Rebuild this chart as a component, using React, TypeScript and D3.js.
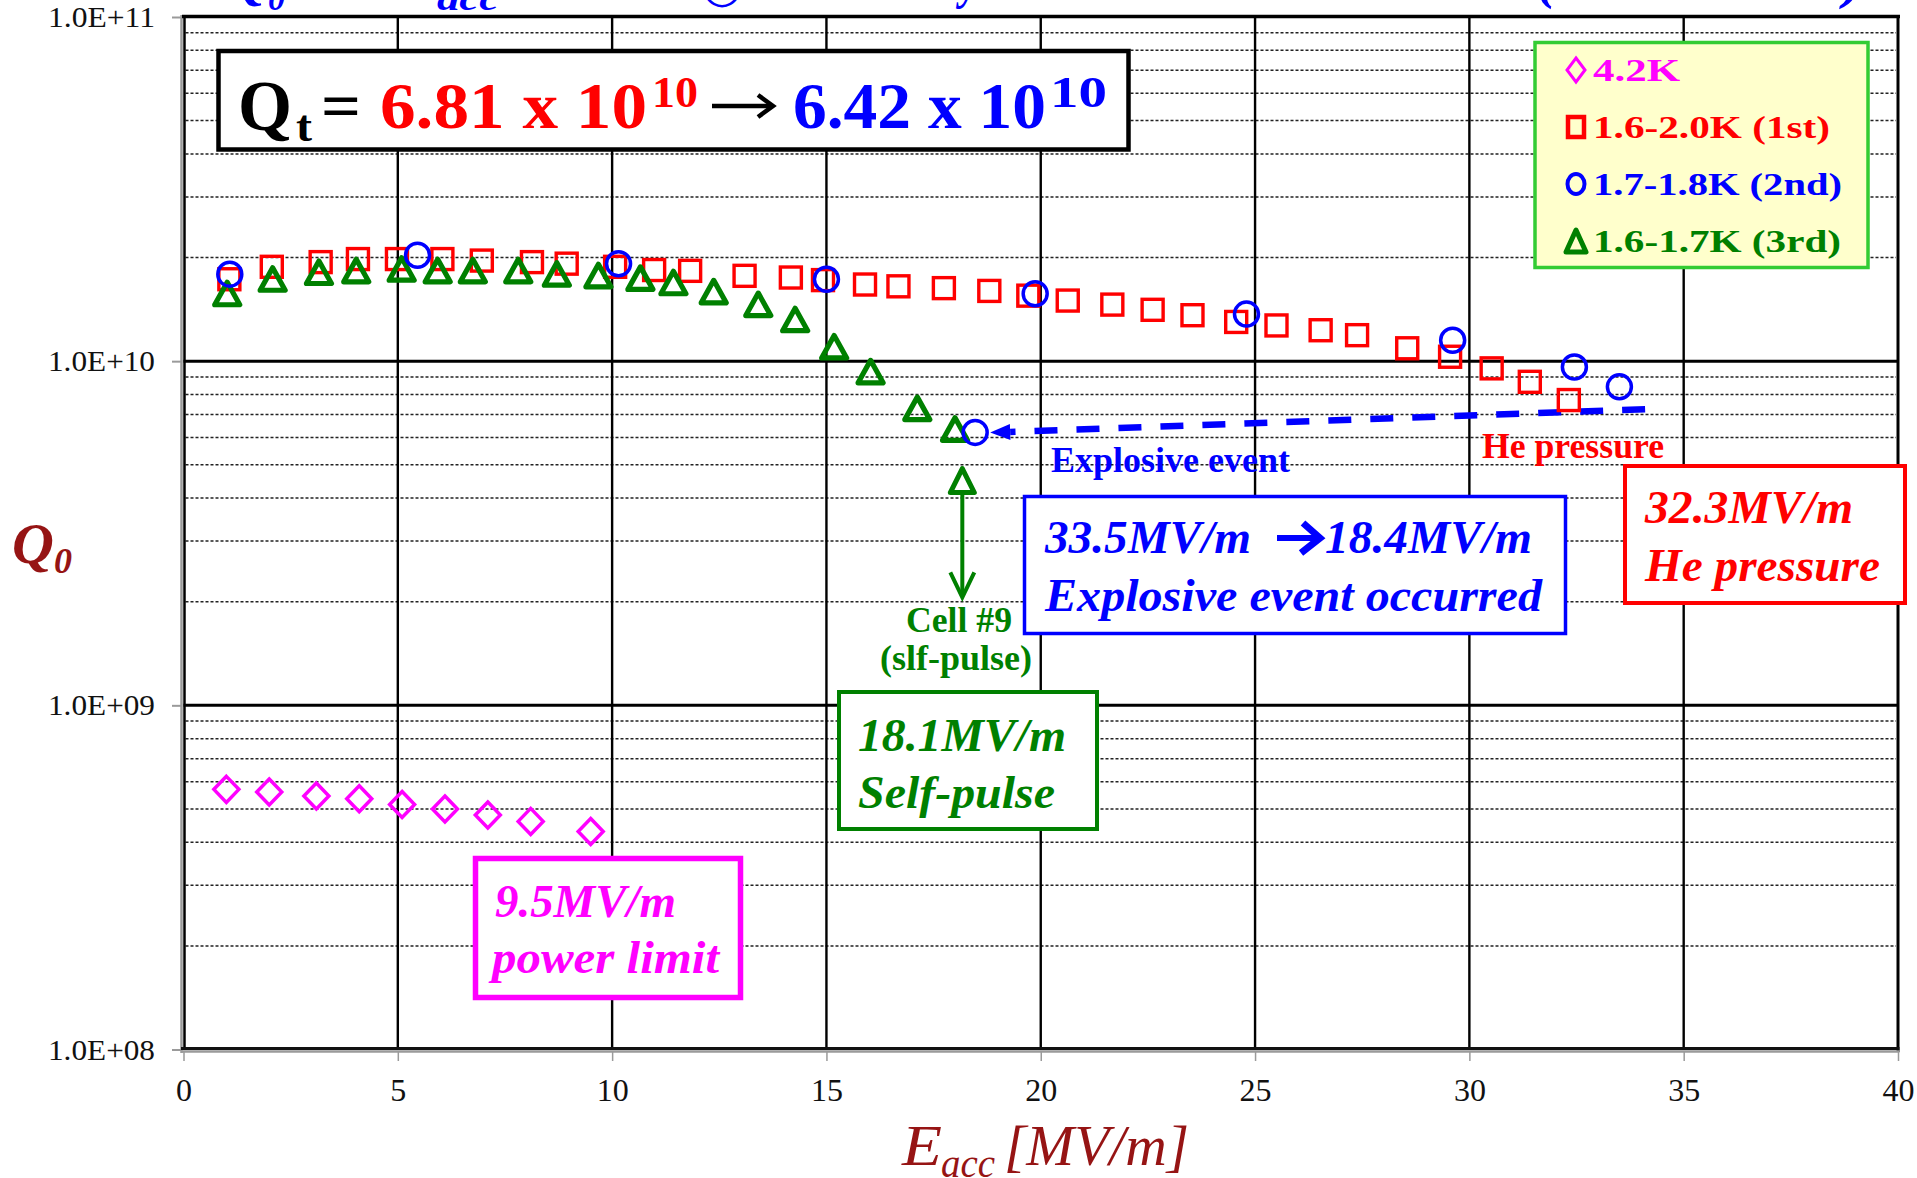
import React, { useEffect, useRef } from "react";
import * as d3 from "d3";

// Q0 vs Eacc
// 4.2K
const eacc42K = [1.0, 2.0, 3.1, 4.1, 5.1, 6.1, 7.1, 8.1, 9.5];
const q42K = [5.7e8, 5.6e8, 5.45e8, 5.35e8, 5.15e8, 5.0e8, 4.8e8, 4.6e8, 4.3e8];

// 1.6-2.0K (1st)
const eacc1st = [
  1.07, 2.06, 3.2, 4.07, 4.98, 6.04, 6.96, 8.13, 8.94, 10.07, 10.98, 11.82, 13.09, 14.17,
  14.92, 15.9, 16.68, 17.74, 18.8, 19.71, 20.63, 21.67, 22.61, 23.54, 24.56, 25.5, 26.53,
  27.38, 28.55, 29.55, 30.52, 31.41, 32.32,
];
const q1st = [
  1.73e10, 1.88e10, 1.94e10, 1.98e10, 1.98e10, 1.98e10, 1.96e10, 1.94e10, 1.92e10, 1.88e10,
  1.84e10, 1.83e10, 1.77e10, 1.75e10, 1.72e10, 1.67e10, 1.65e10, 1.63e10, 1.6e10, 1.55e10,
  1.5e10, 1.46e10, 1.41e10, 1.36e10, 1.3e10, 1.27e10, 1.23e10, 1.19e10, 1.09e10, 1.03e10,
  9.53e9, 8.71e9, 7.71e9,
];

// 1.7-1.8K (2nd), last point after the explosive event
const eacc2nd = [1.08, 5.46, 10.15, 15.0, 19.87, 24.8, 29.61, 32.45, 33.5, 18.47];
const q2nd = [1.79e10, 2.03e10, 1.92e10, 1.73e10, 1.57e10, 1.37e10, 1.15e10, 9.62e9, 8.42e9, 6.21e9];

// 1.6-1.7K (3rd)
const eacc3rd = [
  1.02, 2.08, 3.16, 4.03, 5.09, 5.93, 6.75, 7.81, 8.71, 9.68, 10.66, 11.43, 12.37, 13.41,
  14.27, 15.18, 16.03, 17.12, 18.0,
];
const q3rd = [
  1.57e10, 1.73e10, 1.81e10, 1.83e10, 1.85e10, 1.83e10, 1.83e10, 1.83e10, 1.79e10, 1.77e10,
  1.74e10, 1.69e10, 1.59e10, 1.46e10, 1.32e10, 1.1e10, 9.31e9, 7.28e9, 6.34e9,
];

const xTicks = [0, 5, 10, 15, 20, 25, 30, 35, 40];
const yTicks = [1e8, 1e9, 1e10, 1e11];
const yTickLabels = ["1.0E+08", "1.0E+09", "1.0E+10", "1.0E+11"];

const legendLabels = ["4.2K", "1.6-2.0K (1st)", "1.7-1.8K (2nd)", "1.6-1.7K (3rd)"];
const legendLengths = [87, 237, 249, 248];
const colors = ["#ff00ff", "#ff0000", "#0000ff", "#008000"];

// annotation anchors (data units)
const explosiveLine = [
  [34.1, 7.25e9],
  [18.82, 6.2e9],
];
const selfPulseArrow = { e: 18.17, top: 4.5e9, bottom: 2.06e9 };

const SERIF = "'Liberation Serif', 'Times New Roman', serif";
const DARKRED = "#961414";

const App = () => {
  const ref = useRef<SVGSVGElement>(null);

  useEffect(() => {
    const svg = d3.select(ref.current);
    svg.selectAll("*").remove();

    const x = d3.scaleLinear().domain([0, 40]).range([183.5, 1898]);
    const y = d3.scaleLog().domain([1e8, 1e11]).range([1049.5, 17]);

    const txt = (g: any, s: string, tx: number, ty: number, o: any) => {
      const t = g
        .append("text")
        .attr("x", tx)
        .attr("y", ty)
        .attr("font-family", o.family || SERIF)
        .attr("font-size", o.size)
        .attr("font-weight", o.weight || "normal")
        .attr("font-style", o.style || "normal")
        .attr("fill", o.fill || "#000")
        .attr("text-anchor", o.anchor || "start")
        .text(s);
      if (o.len) t.attr("textLength", o.len).attr("lengthAdjust", "spacingAndGlyphs");
      return t;
    };

    svg.append("rect").attr("width", 1917).attr("height", 1178).attr("fill", "#fff");

    // cut-off title at the very top
    const title = svg.append("g");
    const tb = -2;
    txt(title, "Q", 229, tb, { size: 52, weight: "bold", style: "italic", fill: "#0000ff" });
    txt(title, "0", 268, tb + 12, { size: 34, weight: "bold", style: "italic", fill: "#0000ff" });
    txt(title, "vs E", 437, tb, { size: 52, weight: "bold", style: "italic", fill: "#0000ff", anchor: "end" });
    txt(title, "acc", 437, tb + 12, { size: 34, weight: "bold", style: "italic", fill: "#0000ff", len: 62 });
    txt(title, "○", 702, tb + 4, { size: 44, family: "'DejaVu Sans'", fill: "#0000ff", len: 40 });
    txt(title, "9-cell cavity", 978, tb, { size: 52, weight: "bold", style: "italic", fill: "#0000ff", anchor: "end", len: 200 });
    txt(title, "(1st-3rd tests)", 1537, tb, { size: 52, weight: "bold", style: "italic", fill: "#0000ff", len: 326 });

    const grid = svg.append("g");
    // minor dashed lines
    const minor: number[] = [];
    [8, 9, 10].forEach((e) => d3.range(2, 10).forEach((k) => minor.push(k * Math.pow(10, e))));
    grid
      .selectAll("line.minor")
      .data(minor)
      .join("line")
      .attr("x1", x(0) + 2)
      .attr("x2", x(40) - 2)
      .attr("y1", (d) => y(d))
      .attr("y2", (d) => y(d))
      .attr("stroke", "#222")
      .attr("stroke-width", 1.5)
      .attr("stroke-dasharray", "3,2");
    // major decade lines
    grid
      .selectAll("line.major")
      .data([1e9, 1e10])
      .join("line")
      .attr("x1", x(0))
      .attr("x2", x(40))
      .attr("y1", (d) => y(d))
      .attr("y2", (d) => y(d))
      .attr("stroke", "#000")
      .attr("stroke-width", 3);
    // vertical grid
    grid
      .selectAll("line.vert")
      .data(xTicks.slice(1, -1))
      .join("line")
      .attr("x1", (d) => x(d))
      .attr("x2", (d) => x(d))
      .attr("y1", y(1e11))
      .attr("y2", y(1e8))
      .attr("stroke", "#000")
      .attr("stroke-width", 2.4);

    // frame
    svg.append("line").attr("x1", 181.5).attr("x2", 181.5).attr("y1", 15).attr("y2", 1053).attr("stroke", "#9a9a9a").attr("stroke-width", 2.5);
    svg.append("line").attr("x1", 184.5).attr("x2", 184.5).attr("y1", 15).attr("y2", 1050).attr("stroke", "#000").attr("stroke-width", 2.5);
    svg.append("line").attr("x1", 182).attr("x2", 1900).attr("y1", 16.5).attr("y2", 16.5).attr("stroke", "#000").attr("stroke-width", 3.5);
    svg.append("line").attr("x1", 1898).attr("x2", 1898).attr("y1", 15).attr("y2", 1052).attr("stroke", "#000").attr("stroke-width", 3);
    svg.append("line").attr("x1", 181).attr("x2", 1899.5).attr("y1", 1048.5).attr("y2", 1048.5).attr("stroke", "#111").attr("stroke-width", 3);
    svg.append("line").attr("x1", 181).attr("x2", 1899.5).attr("y1", 1051.5).attr("y2", 1051.5).attr("stroke", "#9a9a9a").attr("stroke-width", 2.5);

    // axes
    const yAxis = svg
      .append("g")
      .attr("transform", "translate(181,0)")
      .call(
        d3
          .axisLeft(y)
          .tickValues(yTicks)
          .tickFormat((d, i) => yTickLabels[i])
          .tickSize(9)
          .tickPadding(17)
      );
    yAxis.select(".domain").remove();
    yAxis.selectAll("line").attr("stroke", "#9a9a9a").attr("stroke-width", 2);
    yAxis
      .selectAll("text")
      .attr("font-family", SERIF)
      .attr("font-size", 30)
      .attr("fill", "#111")
      .attr("textLength", 107)
      .attr("lengthAdjust", "spacingAndGlyphs");

    const xAxis = svg
      .append("g")
      .attr("transform", "translate(0,1052)")
      .call(d3.axisBottom(x).tickValues(xTicks).tickFormat(d3.format("d")).tickSize(9).tickPadding(17));
    xAxis.select(".domain").remove();
    xAxis.selectAll("line").attr("stroke", "#9a9a9a").attr("stroke-width", 1.5);
    xAxis.selectAll("text").attr("font-family", SERIF).attr("font-size", 32).attr("fill", "#111");

    // axis titles
    txt(svg, "Q", 12, 563, { size: 58, weight: "bold", style: "italic", fill: DARKRED });
    txt(svg, "0", 54, 573, { size: 36, weight: "bold", style: "italic", fill: DARKRED });
    txt(svg, "E", 902, 1165, { size: 58, style: "italic", fill: DARKRED, len: 40 });
    txt(svg, "acc", 941, 1177, { size: 40, style: "italic", fill: DARKRED, len: 54 });
    txt(svg, "[MV/m]", 1004, 1165, { size: 58, style: "italic", fill: DARKRED, len: 185 });

    // annotations behind markers
    const ann = svg.append("g");
    // explosive event dashed arrow
    const p0 = [x(explosiveLine[0][0]), y(explosiveLine[0][1])];
    const p1 = [x(explosiveLine[1][0]), y(explosiveLine[1][1])];
    const dx = p0[0] - p1[0];
    const dy = p0[1] - p1[1];
    const len = Math.hypot(dx, dy);
    const ux = dx / len;
    const uy = dy / len;
    const base = [p1[0] + ux * 20, p1[1] + uy * 20];
    ann
      .append("line")
      .attr("x1", p0[0])
      .attr("y1", p0[1])
      .attr("x2", base[0])
      .attr("y2", base[1])
      .attr("stroke", "#0000ff")
      .attr("stroke-width", 6.5)
      .attr("stroke-dasharray", "23,19");
    ann
      .append("path")
      .attr(
        "d",
        `M${p1[0]},${p1[1]}L${base[0] - uy * 8},${base[1] + ux * 8}L${base[0] + uy * 8},${base[1] - ux * 8}Z`
      )
      .attr("fill", "#0000ff");

    // self-pulse arrow
    const ax = x(selfPulseArrow.e);
    const aTop = y(selfPulseArrow.top);
    const aBot = y(selfPulseArrow.bottom);
    ann
      .append("line")
      .attr("x1", ax)
      .attr("x2", ax)
      .attr("y1", aTop + 12)
      .attr("y2", aBot - 2)
      .attr("stroke", "#008000")
      .attr("stroke-width", 4);
    ann
      .append("path")
      .attr("d", `M${ax},${aTop - 12}L${ax + 12},${aTop + 12}L${ax - 12},${aTop + 12}Z`)
      .attr("fill", "none")
      .attr("stroke", "#008000")
      .attr("stroke-width", 5)
      .attr("stroke-linejoin", "round");
    ann
      .append("path")
      .attr("d", `M${ax - 12},${aBot - 25}L${ax},${aBot}L${ax + 12},${aBot - 25}`)
      .attr("fill", "none")
      .attr("stroke", "#008000")
      .attr("stroke-width", 4);

    // marker series
    const marks = svg.append("g");
    const pts = (es: number[], qs: number[]) => es.map((e, i) => [x(e), y(qs[i])]);

    marks
      .selectAll("path.dia")
      .data(pts(eacc42K, q42K))
      .join("path")
      .attr("d", (d) => `M${d[0]},${d[1] - 13}L${d[0] + 12.5},${d[1]}L${d[0]},${d[1] + 13}L${d[0] - 12.5},${d[1]}Z`)
      .attr("fill", "none")
      .attr("stroke", colors[0])
      .attr("stroke-width", 3.5);

    marks
      .selectAll("rect.sq")
      .data(pts(eacc1st, q1st))
      .join("rect")
      .attr("x", (d) => d[0] - 10.5)
      .attr("y", (d) => d[1] - 10.5)
      .attr("width", 21)
      .attr("height", 21)
      .attr("fill", "none")
      .attr("stroke", colors[1])
      .attr("stroke-width", 3.4);

    marks
      .selectAll("path.tri")
      .data(pts(eacc3rd, q3rd))
      .join("path")
      .attr("d", (d) => `M${d[0]},${d[1] - 11.5}L${d[0] + 12.5},${d[1] + 11}L${d[0] - 12.5},${d[1] + 11}Z`)
      .attr("fill", "none")
      .attr("stroke", colors[3])
      .attr("stroke-width", 5.2)
      .attr("stroke-linejoin", "round");

    marks
      .selectAll("circle.circ")
      .data(pts(eacc2nd, q2nd))
      .join("circle")
      .attr("cx", (d) => d[0])
      .attr("cy", (d) => d[1])
      .attr("r", 12)
      .attr("fill", "none")
      .attr("stroke", colors[2])
      .attr("stroke-width", 3.5);

    // free texts
    txt(svg, "Explosive event", 1051, 472, { size: 36, weight: "bold", fill: "#0000ff", len: 239 });
    txt(svg, "He pressure", 1482, 458, { size: 36, weight: "bold", fill: "#ff0000", len: 182 });
    txt(svg, "Cell #9", 906, 632, { size: 36, weight: "bold", fill: "#008000", len: 106 });
    txt(svg, "(slf-pulse)", 880, 670, { size: 36, weight: "bold", fill: "#008000", len: 152 });

    // Qt box
    const qb = svg.append("g");
    qb.append("rect").attr("x", 218.5).attr("y", 51).attr("width", 910).attr("height", 98.5).attr("fill", "#fff").attr("stroke", "#000").attr("stroke-width", 4.5);
    txt(qb, "Q", 238, 130, { size: 72, weight: "bold", len: 54 });
    txt(qb, "t", 296, 141, { size: 44, weight: "bold", len: 16 });
    txt(qb, "=", 321, 128, { size: 66, weight: "bold", len: 40 });
    txt(qb, "6.81 x 10", 380, 128, { size: 66, weight: "bold", fill: "#ff0000", len: 267 });
    txt(qb, "10", 652, 107, { size: 44, weight: "bold", fill: "#ff0000", len: 46 });
    qb.append("line").attr("x1", 712).attr("x2", 770).attr("y1", 106).attr("y2", 106).attr("stroke", "#000").attr("stroke-width", 4.5);
    qb.append("path").attr("d", "M758,95L773,106L758,117").attr("fill", "none").attr("stroke", "#000").attr("stroke-width", 4.5);
    txt(qb, "6.42 x 10", 793, 128, { size: 66, weight: "bold", fill: "#0000ff", len: 253 });
    txt(qb, "10", 1050, 107, { size: 44, weight: "bold", fill: "#0000ff", len: 57 });

    // legend
    const lg = svg.append("g");
    lg.append("rect").attr("x", 1535).attr("y", 42.5).attr("width", 333).attr("height", 225).attr("fill", "#ffffcc").attr("stroke", "#33cc33").attr("stroke-width", 3.5);
    const rowBase = [81, 138, 195, 252];
    const mx = 1576;
    legendLabels.forEach((lab, i) => {
      const cy = rowBase[i] - 11;
      if (i === 0)
        lg.append("path").attr("d", `M${mx},${cy - 12}L${mx + 9},${cy}L${mx},${cy + 12}L${mx - 9},${cy}Z`).attr("fill", "none").attr("stroke", colors[0]).attr("stroke-width", 3);
      if (i === 1)
        lg.append("rect").attr("x", mx - 8).attr("y", cy - 10).attr("width", 16).attr("height", 20).attr("fill", "none").attr("stroke", colors[1]).attr("stroke-width", 4.5);
      if (i === 2)
        lg.append("ellipse").attr("cx", mx).attr("cy", cy).attr("rx", 8.5).attr("ry", 10).attr("fill", "none").attr("stroke", colors[2]).attr("stroke-width", 4);
      if (i === 3)
        lg.append("path").attr("d", `M${mx},${cy - 11}L${mx + 10},${cy + 11}L${mx - 10},${cy + 11}Z`).attr("fill", "none").attr("stroke", colors[3]).attr("stroke-width", 5).attr("stroke-linejoin", "round");
      txt(lg, lab, 1593, rowBase[i], { size: 32, weight: "bold", fill: colors[i], len: legendLengths[i] });
    });

    // annotation boxes
    const box = (bx: number, by: number, bw: number, bh: number, c: string, sw: number) =>
      svg.append("rect").attr("x", bx).attr("y", by).attr("width", bw).attr("height", bh).attr("fill", "#fff").attr("stroke", c).attr("stroke-width", sw);
    const bi = { size: 47, weight: "bold", style: "italic" };

    box(1024.5, 496.5, 541, 137, "#0000ff", 3.5);
    txt(svg, "33.5MV/m", 1045, 553, { ...bi, fill: "#0000ff", len: 206 });
    svg.append("line").attr("x1", 1277).attr("x2", 1315).attr("y1", 538).attr("y2", 538).attr("stroke", "#0000ff").attr("stroke-width", 6);
    svg.append("path").attr("d", "M1303,523L1320,538L1301,553").attr("fill", "none").attr("stroke", "#0000ff").attr("stroke-width", 7);
    txt(svg, "18.4MV/m", 1325, 553, { ...bi, fill: "#0000ff", len: 207 });
    txt(svg, "Explosive event occurred", 1045, 611, { ...bi, fill: "#0000ff", len: 497 });

    box(1625, 466, 280, 137, "#ff0000", 4);
    txt(svg, "32.3MV/m", 1645, 523, { ...bi, fill: "#ff0000", len: 208 });
    txt(svg, "He pressure", 1645, 581, { ...bi, fill: "#ff0000", len: 235 });

    box(839, 692, 258, 137, "#008000", 4);
    txt(svg, "18.1MV/m", 858, 751, { ...bi, fill: "#008000", len: 208 });
    txt(svg, "Self-pulse", 858, 808, { ...bi, fill: "#008000", len: 197 });

    box(475.5, 858.5, 265, 139, "#ff00ff", 5.5);
    txt(svg, "9.5MV/m", 495, 917, { ...bi, fill: "#ff00ff", len: 181 });
    txt(svg, "power limit", 492, 973, { ...bi, fill: "#ff00ff", len: 227 });
  }, []);

  return (
    <div style={{ position: "absolute", left: 0, top: 0 }}>
      <svg ref={ref} width={1917} height={1178} style={{ display: "block" }}></svg>
    </div>
  );
};

export default App;
